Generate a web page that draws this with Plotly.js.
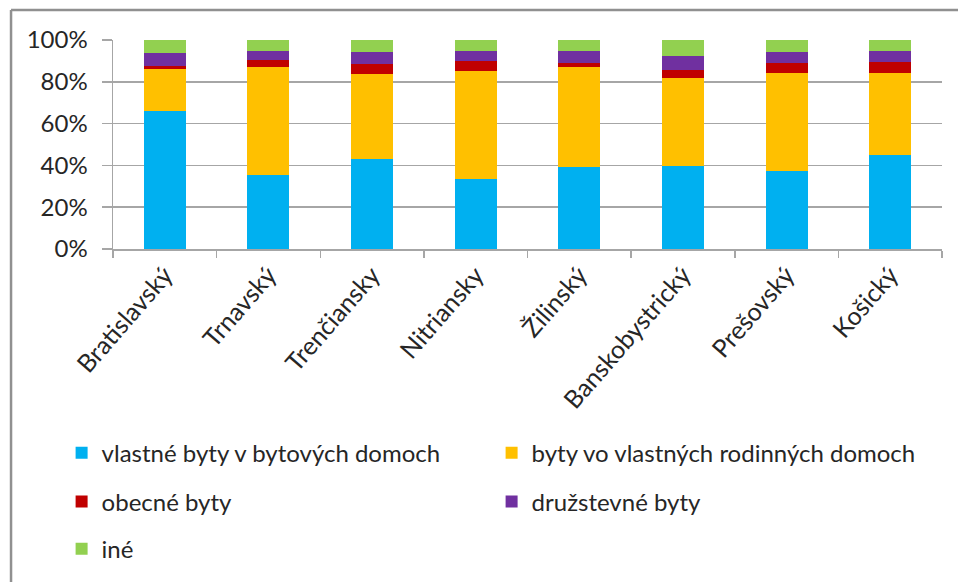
<!DOCTYPE html>
<html>
<head>
<meta charset="utf-8">
<script src="https://cdn.plot.ly/plotly-3.0.1.min.js"></script>
<style>html,body{margin:0;padding:0;background:#fff;}#chart{width:958px;height:582px;}</style>
</head>
<body>
<div id="chart"></div>
<script>
const regions = ["Bratislavský","Trnavský","Trenčiansky","Nitriansky","Žilinský","Banskobystrický","Prešovský","Košický"];
const seriesNames = ["vlastné byty v bytových domoch","byty vo vlastných rodinných domoch","obecné byty","družstevné byty","iné"];
const vlastneByty   = [66.2, 35.4, 42.9, 33.7, 39.2, 39.7, 37.3, 44.8];
const rodinneDomy   = [20.0, 51.9, 40.9, 51.7, 48.1, 42.0, 46.8, 39.6];
const obecneByty    = [1.3, 3.2, 4.8, 4.6, 1.9, 4.0, 4.8, 5.0];
const druzstevne    = [6.4, 4.3, 5.5, 4.8, 5.6, 6.7, 5.2, 5.4];
const ine           = [6.1, 5.2, 5.9, 5.2, 5.2, 7.6, 5.9, 5.2];
const yTickVals = [0, 20, 40, 60, 80, 100];
const yTickText = ["0%","20%","40%","60%","80%","100%"];

const colors = ["#00B0F0","#FFC000","#C00000","#7030A0","#92D050"];
const allSeries = [vlastneByty, rodinneDomy, obecneByty, druzstevne, ine];
const legendIds = ["legend","legend","legend2","legend2","legend3"];

const FONT = "Lato, 'Open Sans', sans-serif";
const traces = allSeries.map((vals, i) => ({
  type: "bar",
  name: seriesNames[i],
  x: regions,
  y: vals,
  marker: {color: colors[i], line: {width: 0}},
  legend: legendIds[i],
  hoverinfo: "x+y+name"
}));

const legendBase = {
  orientation: "h",
  x: -0.062, xanchor: "left",
  yanchor: "middle",
  entrywidth: 385, entrywidthmode: "pixels",
  font: {family: FONT, size: 24, color: "#262626"},
  bgcolor: "rgba(0,0,0,0)",
  traceorder: "normal"
};

const layout = {
  width: 958, height: 582,
  margin: {l: 113, r: 16, t: 40, b: 332},
  barmode: "stack",
  bargap: 0.595,
  paper_bgcolor: "#ffffff",
  plot_bgcolor: "#ffffff",
  font: {family: FONT, color: "#404040"},
  showlegend: true,
  xaxis: {
    type: "category",
    showgrid: false,
    showline: true, linecolor: "#a6a6a6", linewidth: 1.5,
    ticks: "outside", tickson: "boundaries", ticklen: 7, tickcolor: "#a6a6a6", tickwidth: 1.5,
    tickangle: -49,
    tickfont: {family: FONT, size: 25, color: "#262626"},
    fixedrange: true
  },
  yaxis: {
    range: [0, 100],
    tickvals: yTickVals, ticktext: yTickText,
    showgrid: true, gridcolor: "#a6a6a6", gridwidth: 1.5,
    showline: true, linecolor: "#a6a6a6", linewidth: 1.5,
    ticks: "outside", ticklen: 10, tickcolor: "#a6a6a6", tickwidth: 1.5,
    ticklabelstandoff: 9,
    tickfont: {family: FONT, size: 24, color: "#262626"},
    zeroline: false,
    fixedrange: true
  },
  legend: Object.assign({}, legendBase, {y: -0.967}),
  legend2: Object.assign({}, legendBase, {y: -1.2}),
  legend3: Object.assign({}, legendBase, {y: -1.424}),
  shapes: [
    {type: "line", xref: "paper", yref: "paper", x0: -0.123, x1: 1.1, y0: 1.143, y1: 1.143,
     line: {color: "#909090", width: 2.5}},
    {type: "line", xref: "paper", yref: "paper", x0: -0.123, x1: -0.123, y0: 1.143, y1: -1.6,
     line: {color: "#909090", width: 2.5}}
  ]
};

Plotly.newPlot("chart", traces, layout, {displayModeBar: false, staticPlot: true});
</script>
</body>
</html>
